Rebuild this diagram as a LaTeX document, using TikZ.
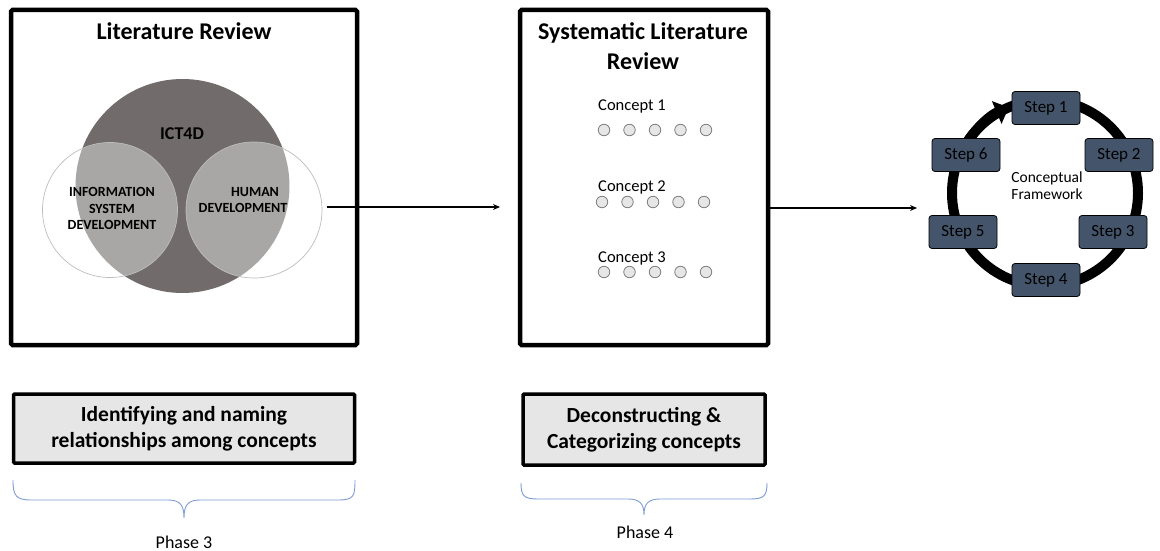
\documentclass[tikz,border=0pt]{standalone}
\usepackage{fontspec}
\setmainfont{Carlito}
\usetikzlibrary{arrows.meta}
\definecolor{venndark}{HTML}{716B6B}
\definecolor{vennline}{HTML}{BDBDBD}
\definecolor{stepfill}{HTML}{44546A}
\definecolor{taskfill}{HTML}{E6E6E6}
\definecolor{bracecol}{HTML}{7E9BD6}
\definecolor{dotfill}{HTML}{E6E6E6}
\definecolor{dotline}{HTML}{7F7F7F}
\tikzset{
  panel/.style={draw=black, line width=4.5pt, rounded corners=1.5pt},
  title/.style={font=\fontsize{24}{30}\selectfont\bfseries, align=center},
  venntext/.style={font=\fontsize{14}{16.5}\selectfont\bfseries, align=center},
  concept/.style={font=\fontsize{16.5}{18}\selectfont, anchor=west, inner sep=0pt},
  dot/.style={circle, draw=dotline, fill=dotfill, line width=0.8pt, minimum size=11.5pt, inner sep=0pt},
  flow/.style={draw=black, line width=1.4pt, -{Stealth[length=7pt,width=6pt]}},
  stepbox/.style={draw=black, line width=0.8pt, fill=stepfill, rounded corners=3pt,
    minimum width=68pt, minimum height=33pt, inner sep=0pt, font=\fontsize{17}{20}\selectfont},
  task/.style={draw=black, line width=3.5pt, fill=taskfill, rounded corners=1pt,
    font=\fontsize{21.5}{26}\selectfont\bfseries, align=center, inner sep=0pt},
  brace/.style={draw=bracecol, line width=0.9pt},
  phase/.style={font=\fontsize{18}{20}\selectfont}
}
\begin{document}
\begin{tikzpicture}[x=1pt,y=-1pt]
\useasboundingbox (0,0) rectangle (1160,551);

% ---- Literature review panel with Venn diagram ----
\draw[panel] (11,10) rectangle (357,345);
\node[title] (lrtitle) at (184,31) {Literature Review};
\fill[venndark] (182.5,186) circle (107);
\filldraw[draw=vennline, line width=0.7pt, fill=white, fill opacity=0.4] (110,210) circle (67.5);
\filldraw[draw=vennline, line width=0.7pt, fill=white, fill opacity=0.4] (254,210) circle (68);
\node[venntext, font=\fontsize{18}{20}\selectfont\bfseries] (ict) at (182,134) {ICT4D};
\node[venntext] (isd) at (112,208.5) {INFORMATION\\SYSTEM\\DEVELOPMENT};
\node[venntext] (hd) at (243,200) {\hspace*{24pt}HUMAN\\DEVELOPMENT};
\coordinate (lrout) at (327,207);

% ---- Systematic literature review panel ----
\draw[panel] (520,10) rectangle (768,345);
\node[title] (slrtitle) at (643,46) {Systematic Literature\\Review};
\node[concept] (c1) at (598,106) {Concept 1};
\node[concept] (c2) at (598,187) {Concept 2};
\node[concept] (c3) at (598,258) {Concept 3};
\foreach \i in {0,...,4} {
  \node[dot] (d1\i) at (604+25.5*\i,130) {};
  \node[dot] (d2\i) at (602+25.5*\i,202) {};
  \node[dot] (d3\i) at (604+25.5*\i,272) {};
}
\coordinate (slrin) at (500,207);
\coordinate (slrout) at (768,208);

% ---- Conceptual framework cycle ----
\coordinate (cyc) at (1045,193);
\draw[line width=10pt] (cyc) circle (93);
\draw[line width=10pt, -{Triangle[length=13pt,width=24pt]}]
  ([shift={(210:93)}]cyc) arc[start angle=210, end angle=247, radius=93];
\node[stepbox] (s1) at (1046,108) {Step 1};
\node[stepbox] (s2) at (1119,155) {Step 2};
\node[stepbox] (s3) at (1113,232) {Step 3};
\node[stepbox] (s4) at (1046,280) {Step 4};
\node[stepbox] (s5) at (963,232) {Step 5};
\node[stepbox] (s6) at (966,155) {Step 6};
\node[font=\fontsize{15.5}{17}\selectfont, align=center] (cf) at (1047,186) {Conceptual\\Framework};
\coordinate (cfin) at (917,208);

% ---- Flow between stages ----
\draw[flow] (lrout) -- (slrin);
\draw[flow] (slrout) -- (cfin);

% ---- Task boxes ----
\node[task, minimum width=341pt, minimum height=69pt] (t3) at (184,428.5)
  {Identifying and naming\\relationships among concepts};
\node[task, minimum width=242pt, minimum height=71pt] (t4) at (644,429.5)
  {Deconstructing \&\\Categorizing concepts};

% ---- Phase braces ----
\draw[brace] (13,480) .. controls (13,496) and (16,500) .. (32,500) -- (168,500)
  .. controls (180,500) and (184,505) .. (184,518)
  .. controls (184,505) and (188,500) .. (200,500) -- (338,500)
  .. controls (354,500) and (355,496) .. (355,480);
\node[phase] (p3) at (184,542) {Phase 3};
\draw[brace] (521,483) .. controls (521,496) and (524,499) .. (538,499) -- (628,499)
  .. controls (640,499) and (644,504) .. (644,515)
  .. controls (644,504) and (648,499) .. (660,499) -- (750,499)
  .. controls (764,499) and (767,496) .. (767,483);
\node[phase] (p4) at (645,532) {Phase 4};
\end{tikzpicture}
\end{document}
